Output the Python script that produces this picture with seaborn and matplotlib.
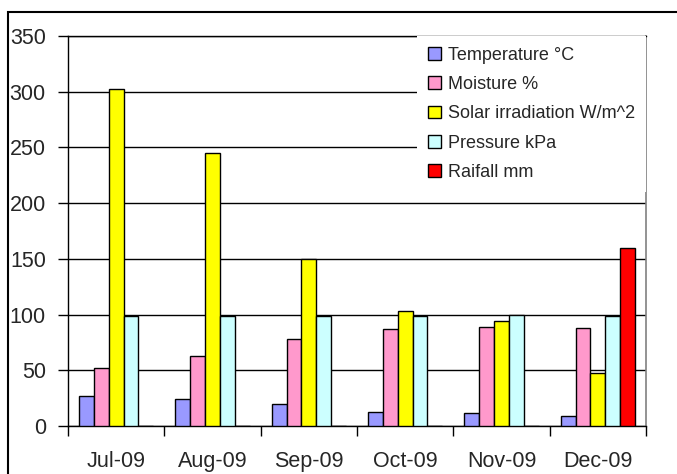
import numpy as np
import pandas as pd
import matplotlib
matplotlib.use("Agg")
import matplotlib.pyplot as plt
from matplotlib.patches import Rectangle, Patch
import seaborn as sns

# Monthly weather station readings
months = ["Jul-09", "Aug-09", "Sep-09", "Oct-09", "Nov-09", "Dec-09"]
series_names = ["Temperature °C", "Moisture %", "Solar irradiation W/m^2",
                "Pressure kPa", "Raifall mm"]
temperature = [27, 24, 20, 13, 12, 9]
moisture = [52, 63, 78, 87, 89, 88]
solar = [302, 245, 150, 103, 94, 48]
pressure = [99, 99, 99, 99, 100, 99]
rainfall = [0, 0, 0, 0, 0, 160]
colors = ["#9999FF", "#FF99CC", "#FFFF00", "#CCFFFF", "#FF0000"]
yticks = [0, 50, 100, 150, 200, 250, 300, 350]

rows = []
for name, vals in zip(series_names,
                      [temperature, moisture, solar, pressure, rainfall]):
    for m, v in zip(months, vals):
        rows.append({"month": m, "series": name, "value": v})
df = pd.DataFrame(rows)

sns.set_style("white")
plt.rcParams["font.family"] = ["Liberation Sans", "DejaVu Sans"]

fig = plt.figure(figsize=(6.77, 4.74), dpi=100)
ax = fig.add_axes([68 / 677, 48 / 474, 578 / 677, 390 / 474])

sns.barplot(data=df, x="month", y="value", hue="series", order=months,
            hue_order=series_names, palette=colors, saturation=1,
            width=0.77, edgecolor="black", linewidth=1.0, ax=ax,
            legend=False, zorder=3)

ax.set_ylim(0, 350)
ax.set_xlim(-0.5, len(months) - 0.5)
ax.set_yticks(yticks)
ax.yaxis.grid(True, color="black", linewidth=1.0, zorder=0)
ax.set_axisbelow(True)
ax.set_xlabel("")
ax.set_ylabel("")

# Ticks between categories on the x axis, labels centred under each group
ax.set_xticks(np.arange(len(months)))
ax.set_xticks(np.arange(-0.5, len(months)), minor=True)
ax.tick_params(axis="x", which="major", length=0, pad=18, labelsize=15.5)
ax.tick_params(axis="x", which="minor", length=7, width=1, color="black",
               direction="out", bottom=True)
ax.tick_params(axis="y", length=7, width=1, color="black", direction="out",
               left=True, pad=9, labelsize=15.5)

for side in ["left", "bottom", "top"]:
    ax.spines[side].set_color("black")
    ax.spines[side].set_linewidth(1.0)
ax.spines["right"].set_color("#808080")
ax.spines["right"].set_linewidth(1.2)

handles = [Patch(facecolor=c, edgecolor="black", linewidth=1.0) for c in colors]
leg = ax.legend(handles, series_names, loc="upper right",
                bbox_to_anchor=(1.0, 1.0), borderaxespad=0, fontsize=13,
                frameon=True, fancybox=False, framealpha=1,
                handlelength=0.7, handleheight=0.7, handletextpad=0.4,
                labelspacing=0.68, borderpad=0.6)
leg.get_frame().set_edgecolor("none")
leg.get_frame().set_facecolor("white")
leg.set_zorder(5)

# Chart area border
fig.add_artist(Rectangle((8 / 677, -0.1), 1.2, 1.1 - 12 / 474,
                         transform=fig.transFigure, fill=False,
                         edgecolor="black", linewidth=1.5))

fig.savefig("out.png", dpi=100, facecolor="white")
